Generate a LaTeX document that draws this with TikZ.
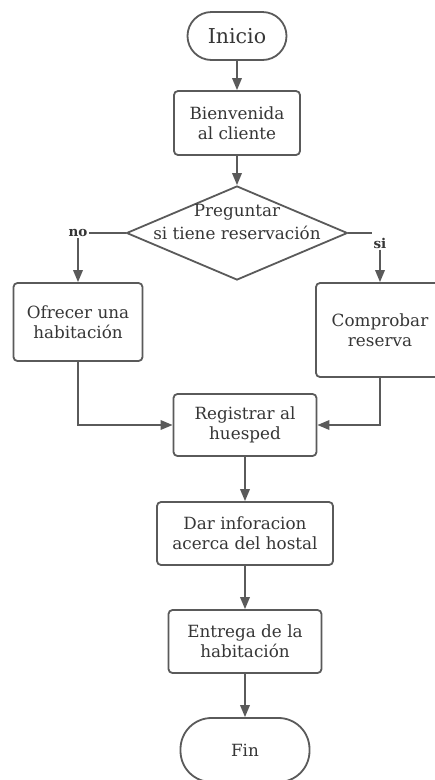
\documentclass[tikz,border=0pt]{standalone}
\usepackage{fontspec}
\setmainfont{DejaVu Serif}
\usetikzlibrary{arrows.meta,shapes.geometric}
\definecolor{lc}{HTML}{5A5A5A}
\definecolor{tc}{HTML}{363636}
\begin{document}
\begin{tikzpicture}[x=1pt,y=-1pt,
  box/.style={draw=lc,line width=1.8pt,rounded corners=4pt,fill=white,inner sep=0pt,align=center,text=tc,font=\fontsize{16.8}{20}\selectfont},
  term/.style={draw=lc,line width=1.8pt,rounded corners=31pt,fill=white,inner sep=0pt,align=center,text=tc},
  arr/.style={draw=lc,line width=1.8pt,-{Triangle[length=12pt,width=9.5pt]}},
  ln/.style={draw=lc,line width=1.6pt},
  lab/.style={text=tc,font=\fontsize{13.5}{15}\bfseries\selectfont,inner sep=1.2pt}]
\fill[white] (0,0) rectangle (435,780);
\clip (0,0) rectangle (435,780);
\node[term,rounded corners=24pt,minimum width=99pt,minimum height=48pt,font=\fontsize{20.5}{24}\selectfont] (ini) at (237,36) {Inicio};
\node[box,minimum width=126pt,minimum height=64pt] (bien) at (237,123) {Bienvenida\\al cliente};
\node[draw=lc,line width=1.8pt,diamond,fill=white,inner sep=0pt,minimum width=221pt,minimum height=94pt] (dia) at (237,233) {};
\node[align=center,text=tc,font=\fontsize{16.8}{23}\selectfont,inner sep=0pt] (dtext) at (237,222) {Preguntar\\si tiene reservación};
\node[lab] (nolab) at (78,233) {no};
\node[lab] (silab) at (380,243) {si};
\node[box,minimum width=129pt,minimum height=78pt] (ofr) at (78,322) {Ofrecer una\\habitación};
\node[box,minimum width=128pt,minimum height=94pt] (comp) at (380,330) {Comprobar\\reserva};
\node[box,minimum width=143pt,minimum height=62pt] (reg) at (245,425) {Registrar al\\huesped};
\node[box,minimum width=176pt,minimum height=63pt] (dar) at (245,533.5) {Dar inforacion\\acerca del hostal};
\node[box,minimum width=153pt,minimum height=63pt] (ent) at (245,641.5) {Entrega de la\\habitación};
\node[term,minimum width=129pt,minimum height=64pt,font=\fontsize{16.8}{20}\selectfont] (fin) at (245,750) {Fin};
\draw[arr] (ini) -- (bien);
\draw[arr] (bien) -- (dia);
\draw[ln] (dia.west) -- (nolab.east);
\draw[arr] (nolab.south) -- (ofr.north);
\draw[ln] (dia.east) -- (dia.east -| silab.west);
\draw[arr] (silab.south) -- (silab.south |- comp.north);
\draw[arr] (ofr.south) |- (reg.west);
\draw[arr] (comp.south) |- (reg.east);
\draw[arr] (reg) -- (dar);
\draw[arr] (dar) -- (ent);
\draw[arr] (ent) -- (fin);
\end{tikzpicture}
\end{document}
